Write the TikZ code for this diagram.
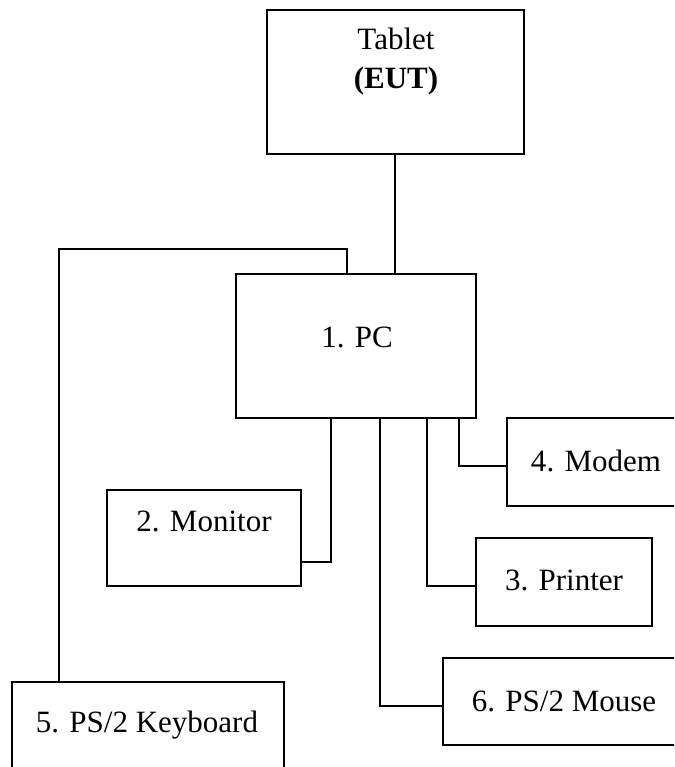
\documentclass[tikz,border=0pt]{standalone}
\usepackage{fontspec}
\setmainfont{Liberation Serif}
\begin{document}
\begin{tikzpicture}[x=1pt,y=-1pt,line width=2pt,
  box/.style={draw=black,rectangle,inner sep=0pt,line width=2pt},
  lbl/.style={anchor=base,inner sep=0pt,font=\fontsize{31}{36}\selectfont},
  wire/.style={draw=black,line width=2pt}]
\useasboundingbox (0,0) rectangle (674,767);
\clip (0,0) rectangle (674,767);
% boxes
\node[box,minimum width=257pt,minimum height=144pt] (tablet) at (395.5,82) {};
\node[box,minimum width=240pt,minimum height=144pt] (pc) at (356,346) {};
\node[box,minimum width=200pt,minimum height=88pt] (modem) at (607,462) {};
\node[box,minimum width=194pt,minimum height=96pt] (monitor) at (204,538) {};
\node[box,minimum width=176pt,minimum height=88pt] (printer) at (564,582) {};
\node[box,minimum width=272pt,minimum height=118pt] (keyboard) at (148,741) {};
\node[box,minimum width=257pt,minimum height=87pt] (mouse) at (571.5,701.5) {};
% labels
\node[lbl] (tabletA) at (396,50) {Tablet};
\node[lbl] (tabletB) at (396,89) {\textbf{(EUT)}};
\node[lbl] (pcL) at (357,347) {1. PC};
\node[lbl] (modemL) at (596,471) {4. Modem};
\node[lbl] (monitorL) at (204,531) {2. Monitor};
\node[lbl] (printerL) at (564,590) {3. Printer};
\node[lbl] (keyboardL) at (147,732) {5. PS/2 Keyboard};
\node[lbl] (mouseL) at (564,711) {6. PS/2 Mouse};
% connectors
\draw[wire] ([xshift=129pt]tablet.south west) -- ([xshift=160pt]pc.north west);
\draw[wire] ([xshift=112pt]pc.north west) -- ++(0,-24) -| ([xshift=48pt]keyboard.north west);
\draw[wire] ([xshift=96pt]pc.south west) |- ([yshift=-24pt]monitor.east);
\draw[wire] ([xshift=145pt]pc.south west) |- ([yshift=-4.5pt]mouse.west);
\draw[wire] ([xshift=192pt]pc.south west) |- ([yshift=-4pt]printer.west);
\draw[wire] ([xshift=224pt]pc.south west) |- ([yshift=-4pt]modem.west);
\end{tikzpicture}
\end{document}
